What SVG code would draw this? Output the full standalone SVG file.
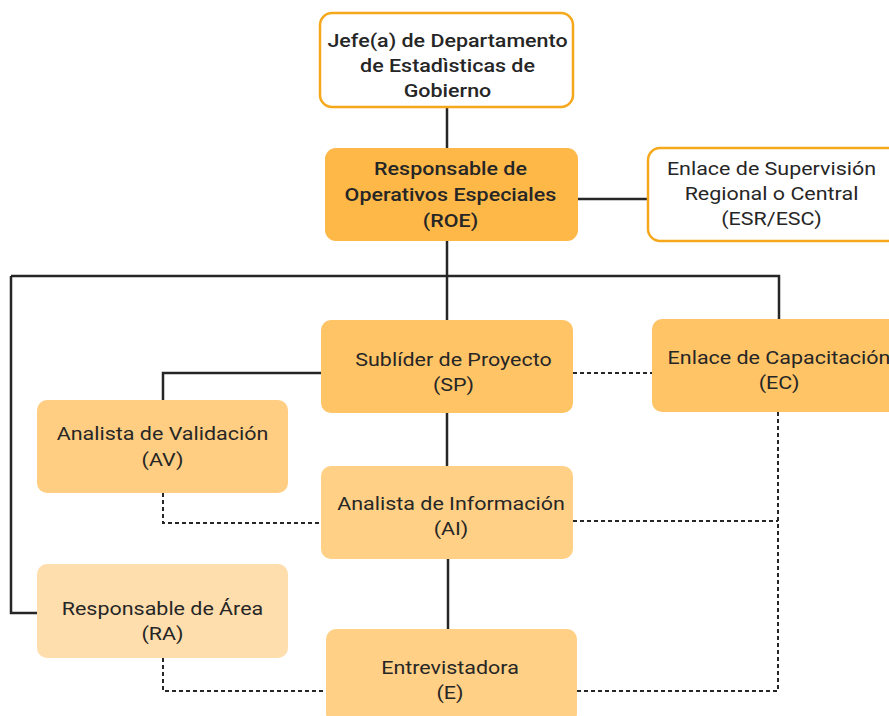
<svg xmlns="http://www.w3.org/2000/svg" width="889" height="716" viewBox="0 0 889 716">
<style>
.t{font-family:Roboto,"Liberation Sans",sans-serif;font-size:19px;fill:#262626;text-anchor:middle}
.b{font-weight:500}
.solid{stroke:#262626;stroke-width:2.5;fill:none}
.dash{stroke:#262626;stroke-width:2;fill:none;stroke-dasharray:4 3}
.w{fill:#fff;stroke:#F5A81C;stroke-width:2.5}
</style>
<rect width="889" height="716" fill="#fff"/>
<g id="connectors">
<path class="solid" d="M447 107V148M578 199H648M447 241V320M11 276H779V320M11 276V613H37M321 373H163V400M447 413V466M448 559V629"/>
<path class="dash" d="M573 373H652M163 493V523H321M573 521H778M778 412V691H577M163 658V691H326"/>
</g>
<g id="jefe"><rect class="w" x="320" y="13" width="253" height="94" rx="12"/>
<text class="t b" transform="matrix(1.13 0 0 1 447.5 0)" y="47">Jefe(a) de Departamento</text><text class="t b" transform="matrix(1.13 0 0 1 447.5 0)" y="72">de Estadìsticas de</text><text class="t b" transform="matrix(1.13 0 0 1 447.5 0)" y="97">Gobierno</text></g>
<g id="roe"><rect x="325" y="148" width="253" height="93" rx="11" fill="#FDB848"/>
<text class="t b" transform="matrix(1.13 0 0 1 450.5 0)" y="175">Responsable de</text><text class="t b" transform="matrix(1.13 0 0 1 450.5 0)" y="201">Operativos Especiales</text><text class="t b" transform="matrix(1.13 0 0 1 450.5 0)" y="227">(ROE)</text></g>
<g id="esr"><rect class="w" x="648" y="148" width="254" height="93" rx="12"/>
<text class="t" transform="matrix(1.13 0 0 1 771.5 0)" y="175">Enlace de Supervisión</text><text class="t" transform="matrix(1.13 0 0 1 771.5 0)" y="200">Regional o Central</text><text class="t" transform="matrix(1.13 0 0 1 771.5 0)" y="225">(ESR/ESC)</text></g>
<g id="sp"><rect x="321" y="320" width="252" height="93" rx="10" fill="#FFC466"/>
<text class="t" transform="matrix(1.13 0 0 1 453.5 0)" y="366">Sublíder de Proyecto</text><text class="t" transform="matrix(1.13 0 0 1 453.5 0)" y="391">(SP)</text></g>
<g id="ec"><rect x="652" y="319" width="254" height="93" rx="10" fill="#FFC466"/>
<text class="t" transform="matrix(1.13 0 0 1 779 0)" y="364">Enlace de Capacitación</text><text class="t" transform="matrix(1.13 0 0 1 779 0)" y="389">(EC)</text></g>
<g id="av"><rect x="37" y="400" width="251" height="93" rx="10" fill="#FFCE82"/>
<text class="t" transform="matrix(1.13 0 0 1 162.5 0)" y="440">Analista de Validación</text><text class="t" transform="matrix(1.13 0 0 1 162.5 0)" y="466">(AV)</text></g>
<g id="ai"><rect x="321" y="466" width="252" height="93" rx="10" fill="#FFD085"/>
<text class="t" transform="matrix(1.13 0 0 1 451 0)" y="510">Analista de Información</text><text class="t" transform="matrix(1.13 0 0 1 451 0)" y="535">(AI)</text></g>
<g id="ra"><rect x="37" y="564" width="251" height="94" rx="10" fill="#FFDEAD"/>
<text class="t" transform="matrix(1.13 0 0 1 162.5 0)" y="615">Responsable de Área</text><text class="t" transform="matrix(1.13 0 0 1 162.5 0)" y="640">(RA)</text></g>
<g id="e"><rect x="326" y="629" width="251" height="94" rx="10" fill="#FFD085"/>
<text class="t" transform="matrix(1.13 0 0 1 450 0)" y="674">Entrevistadora</text><text class="t" transform="matrix(1.13 0 0 1 450 0)" y="699">(E)</text></g>
</svg>
